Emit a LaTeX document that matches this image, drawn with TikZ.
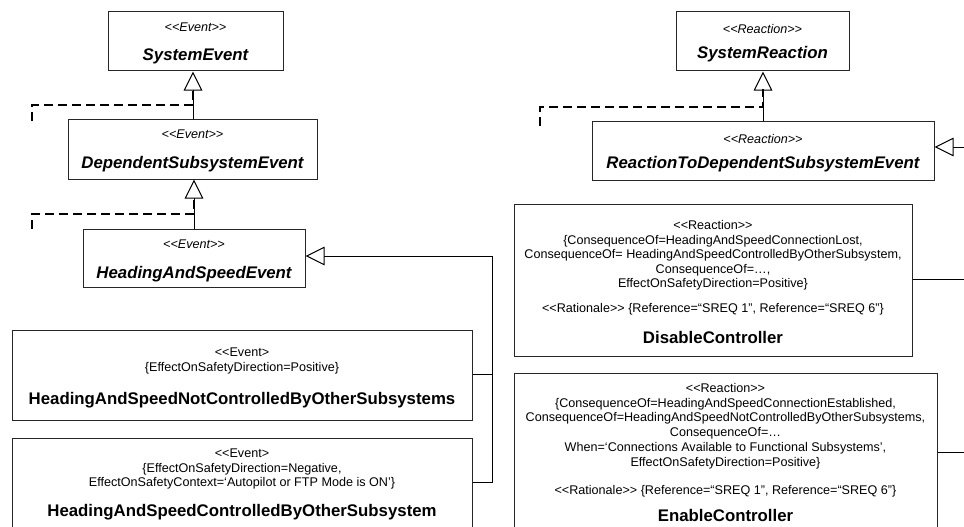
\documentclass[tikz,border=0pt]{standalone}
\usepackage{fontspec}
\setmainfont{Liberation Sans}
\usetikzlibrary{arrows.meta}
% stereotype brackets (the kern blocks the << >> text ligature)
\newcommand\stereo[1]{<\kern0pt<#1>\kern0pt>}
\newcommand\stereoh[1]{<\kern0pt<#1>}

\begin{document}
\begin{tikzpicture}[x=1pt,y=-1pt,
  box/.style={draw=black!85, line width=1pt, inner sep=0pt, rectangle},
  small/.style={font=\fontsize{12.6}{14.5}\selectfont, anchor=base, inner sep=0pt, yshift=-4.5pt},
  ster/.style={small, font=\fontsize{12.6}{14.5}\selectfont\itshape},
  absname/.style={font=\fontsize{16.8}{20}\selectfont\bfseries\itshape, anchor=base, inner sep=0pt, yshift=-6pt},
  cname/.style={font=\fontsize{16.8}{20}\selectfont\bfseries, anchor=base, inner sep=0pt, yshift=-6pt},
  gen/.style={line width=1pt, -{Triangle[open, length=19pt, width=18.5pt]}},
  link/.style={line width=1pt},
  dep/.style={line width=2.2pt, dash pattern=on 9pt off 5pt}
]
\useasboundingbox (0,0) rectangle (964,527);
\fill[white] (0,0) rectangle (964,527);
\clip (0,0) rectangle (964,527);

% ---------- event hierarchy ----------
\node[box, minimum width=175pt, minimum height=59pt] (se) at (195.5,41.5) {};
\node[ster] (se-s) at (195.5,27) {\stereo{Event}};
\node[absname] (se-n) at (195.5,55) {SystemEvent};

\node[box, minimum width=249pt, minimum height=60pt] (dse) at (192.5,149) {};
\node[ster] (dse-s) at (192.5,134) {\stereo{Event}};
\node[absname] (dse-n) at (192.5,162) {DependentSubsystemEvent};

\node[box, minimum width=222pt, minimum height=58pt] (hse) at (194,258) {};
\node[ster] (hse-s) at (194,244) {\stereo{Event}};
\node[absname] (hse-n) at (194,272) {HeadingAndSpeedEvent};

\node[box, minimum width=460pt, minimum height=90pt] (hasnc) at (242,375) {};
\node[small] (hasnc-s) at (242,352) {\stereoh{Event}};
\node[small] (hasnc-t) at (242,366.5) {\{EffectOnSafetyDirection=Positive\}};
\node[cname] (hasnc-n) at (242,398) {HeadingAndSpeedNotControlledByOtherSubsystems};

\node[box, minimum width=460pt, minimum height=110pt] (hascb) at (242,493) {};
\node[small] (hascb-s) at (242,453) {\stereoh{Event}};
\node[small] (hascb-t1) at (242,467.5) {\{EffectOnSafetyDirection=Negative,};
\node[small] (hascb-t2) at (242,482) {EffectOnSafetyContext=‘Autopilot or FTP Mode is ON’\}};
\node[cname] (hascb-n) at (242,510) {HeadingAndSpeedControlledByOtherSubsystem};

% ---------- reaction hierarchy ----------
\node[box, minimum width=173pt, minimum height=59pt] (sr) at (762.5,41.5) {};
\node[ster] (sr-s) at (762.5,29) {\stereo{Reaction}};
\node[absname] (sr-n) at (762.5,53) {SystemReaction};

\node[box, minimum width=342pt, minimum height=59pt] (rtdse) at (763,150.5) {};
\node[ster] (rtdse-s) at (763,139) {\stereo{Reaction}};
\node[absname] (rtdse-n) at (763,162) {ReactionToDependentSubsystemEvent};

\node[box, minimum width=398pt, minimum height=152pt] (dis) at (713,280) {};
\node[small] (dis-s) at (713,225) {\stereo{Reaction}};
\node[small] (dis-t1) at (713,239.5) {\{ConsequenceOf=HeadingAndSpeedConnectionLost,};
\node[small] (dis-t2) at (713,254) {ConsequenceOf= HeadingAndSpeedControlledByOtherSubsystem,};
\node[small] (dis-t3) at (713,268.5) {ConsequenceOf=…,};
\node[small] (dis-t4) at (713,283) {EffectOnSafetyDirection=Positive\}};
\node[small] (dis-r) at (713,308) {\stereo{Rationale} \{Reference=“SREQ 1”, Reference=“SREQ 6”\}};
\node[cname] (dis-n) at (713,337) {DisableController};

\node[box, minimum width=423pt, minimum height=175pt] (en) at (725.5,460.5) {};
\node[small] (en-s) at (725.5,388) {\stereo{Reaction}};
\node[small] (en-t1) at (725.5,402.5) {\{ConsequenceOf=HeadingAndSpeedConnectionEstablished,};
\node[small] (en-t2) at (725.5,417) {ConsequenceOf=HeadingAndSpeedNotControlledByOtherSubsystems,};
\node[small] (en-t3) at (725.5,432) {ConsequenceOf=…};
\node[small] (en-t4) at (725.5,447) {When=‘Connections Available to Functional Subsystems’,};
\node[small] (en-t5) at (725.5,462) {EffectOnSafetyDirection=Positive\}};
\node[small] (en-r) at (725.5,490) {\stereo{Rationale} \{Reference=“SREQ 1”, Reference=“SREQ 6”\}};
\node[cname] (en-n) at (725.5,515) {EnableController};

% ---------- generalizations ----------
\coordinate (g1) at (193,0);
\coordinate (g2) at (194,0);
\coordinate (g3) at (763,0);
\draw[gen] (dse.north -| g1) -- (se.south -| g1);
\draw[gen] (hse.north -| g2) -- (dse.south -| g2);
\draw[gen] (rtdse.north -| g3) -- (sr.south -| g3);

% subsystem events feed into HeadingAndSpeedEvent
\coordinate (b1) at (492,374);
\coordinate (b2) at (492,482);
\coordinate (h1) at (492,256);
\draw[link] (hasnc.east |- b1) -- (b1);
\draw[gen] (hascb.east |- b2) -- (b2) -- (h1) -- (hse.east |- h1);

% reactions feed into ReactionToDependentSubsystemEvent (bus runs off the right edge)
\coordinate (r0) at (985,147);
\coordinate (s1) at (985,279);
\coordinate (s2) at (985,452);
\draw[gen] (r0) -- (rtdse.east |- r0);
\draw[link] (dis.east |- s1) -- (s1);
\draw[link] (en.east |- s2) -- (s2);

% ---------- dashed dependency stubs ----------
\coordinate (d1) at (32,121);  \coordinate (k1) at (193,105); \coordinate (t1) at (193,89);
\coordinate (d2) at (32,229);  \coordinate (k2) at (194,214); \coordinate (t2) at (194,199);
\coordinate (d3) at (540,126); \coordinate (k3) at (763,107); \coordinate (t3) at (763,89);
\draw[dep] (d1) |- (k1) -- (t1);
\draw[dep] (d2) |- (k2) -- (t2);
\draw[dep] (d3) |- (k3) -- (t3);
\end{tikzpicture}
\end{document}
